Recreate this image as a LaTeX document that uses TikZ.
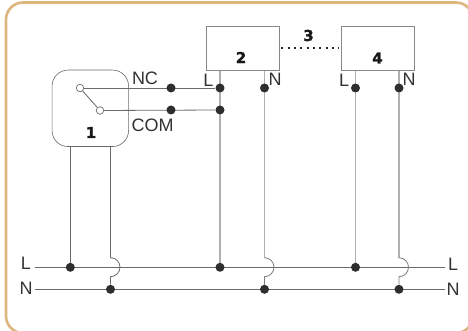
\documentclass[tikz,border=0pt]{standalone}
\usepackage{fontspec}
\usetikzlibrary{backgrounds}
\setmainfont{Liberation Sans}
\newfontfamily\numfont[BoldFeatures={FakeBold=1.5}]{DejaVu Sans}
\definecolor{frame}{HTML}{DDB67F}
\definecolor{wiredark}{HTML}{6A6A6A}
\definecolor{wirelight}{HTML}{B0B0B0}
\definecolor{dotcol}{HTML}{2E2E2E}
\definecolor{textcol}{HTML}{333333}
\tikzset{
  wire/.style={draw=wiredark,line width=1.1pt},
  lightwire/.style={draw=wirelight,line width=1.4pt},
  thinwire/.style={draw=wiredark,line width=0.8pt},
  arcwire/.style={draw=wirelight!70!black,line width=0.8pt},
  devbox/.style={draw=wiredark!80,line width=0.9pt,minimum width=73pt,minimum height=44pt,inner sep=0pt},
  dotnode/.style={circle,fill=dotcol,minimum size=9pt,inner sep=0pt},
  contact/.style={circle,draw=wiredark,fill=white,line width=0.7pt,minimum size=7.5pt,inner sep=0pt},
  lab/.style={text=textcol,font=\fontsize{18}{18}\selectfont,inner sep=0pt},
  num/.style={text=black!90,font=\numfont\fontsize{15}{15}\selectfont\bfseries,inner sep=0pt}
}
\begin{document}
\begin{tikzpicture}[x=1pt,y=-1pt]
\useasboundingbox (0,0) rectangle (468,331);

% devices
\node[draw=wiredark,line width=0.6pt,rounded corners=16pt,minimum width=76.5pt,minimum height=76.5pt,inner sep=0pt] (sw) at (90.3,108.3) {};
\node[devbox,anchor=north west] (b2) at (205.5,26) {};
\node[devbox,anchor=north west] (b4) at (340.5,26) {};

% left and right line ends
\coordinate (Ls) at (35,267.3);
\coordinate (Le) at (445,267.3);
\coordinate (Ns) at (35,289.3);
\coordinate (Ne) at (445,289.3);

% junctions
\node[contact] (cNC) at (80,88) {};
\node[contact] (cCOM) at (100,110.5) {};
\node[dotnode] (d1) at (171,88) {};
\node[dotnode] (d2) at (171,110) {};
\node[dotnode] (aL) at (220,88) {};
\node[dotnode] (aC) at (220,110) {};
\node[dotnode] (bN) at (264.5,88) {};
\node[dotnode] (cL) at (355.5,88) {};
\node[dotnode] (cN) at (399,88) {};
\node[dotnode] (j1) at (70.3,267.3) {};
\node[dotnode] (j2) at (220,267.3) {};
\node[dotnode] (j3) at (355.5,267.3) {};
\node[dotnode] (n1) at (110.5,289.3) {};
\node[dotnode] (n2) at (264.5,289.3) {};
\node[dotnode] (n3) at (399,289.3) {};

\begin{scope}[on background layer]
\fill[white] (0,0) rectangle (468,331);
\draw[frame,line width=2.6pt,rounded corners=17pt] (6,2.5) rectangle (473,333);

% bus lines
\draw[wire] (Ls) -- (Le);
\draw[wire] (Ns) -- (Ne);

% switch wiring
\draw[thinwire] (cNC) -- (aL);
\draw[thinwire] (cCOM) -- (aC);
\draw[thinwire] (cNC) -- (cCOM);

% verticals
\draw[thinwire] (sw.south -| j1) -- (j1);
\draw[thinwire] (sw.south -| n1) -- (110.5,257.7) arc[start angle=-90,end angle=90,x radius=9.5pt,y radius=-9.5pt] -- (n1);
\draw[lightwire] (b2.south -| aL) -- (j2);
\draw[lightwire] (b2.south -| bN) -- (264.5,257.7);
\draw[arcwire] (264.5,257.7) arc[start angle=-90,end angle=90,x radius=9.5pt,y radius=-9.5pt] -- (n2);
\draw[lightwire] (b4.south -| cL) -- (j3);
\draw[lightwire] (b4.south -| cN) -- (399,257.7);
\draw[arcwire] (399,257.7) arc[start angle=-90,end angle=90,x radius=9.5pt,y radius=-9.5pt] -- (n3);

% dotted link
\draw[black!85,line width=2pt,dash pattern=on 2pt off 4.3pt] ([xshift=2pt]b2.east) -- ([xshift=-2pt]b4.west);
\end{scope}

% labels
\node[lab] (tNC) at (145,78.5) {NC};
\node[lab] (tCOM) at (152.5,125) {COM};
\node[lab] at (208.5,80) {L};
\node[lab] at (275,79) {N};
\node[lab] at (344,80) {L};
\node[lab] at (409,79) {N};
\node[lab] at (26,263.5) {L};
\node[lab] at (26,288.5) {N};
\node[lab] at (453,264) {L};
\node[lab] at (453,289) {N};
\node[num] at (91,132.5) {1};
\node[num] at (241,57.5) {2};
\node[num] at (308.5,35.5) {3};
\node[num] at (377.5,58) {4};
\end{tikzpicture}
\end{document}
